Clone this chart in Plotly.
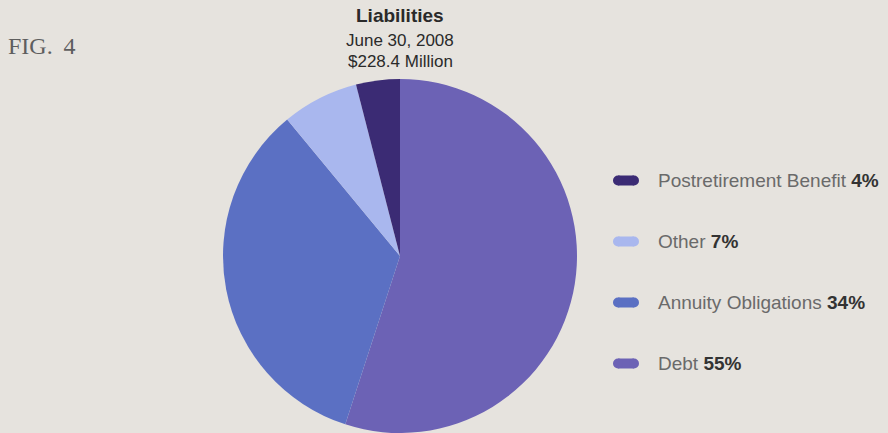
import plotly.graph_objects as go

# Liabilities breakdown, June 30, 2008 (percent of $228.4 million)
categories = ["Debt", "Annuity Obligations", "Other", "Postretirement Benefit"]
shares = [55, 34, 7, 4]
colors = ["#6c62b5", "#5b70c3", "#a9b7ee", "#3b2b74"]

title_lines = ["Liabilities", "June 30, 2008", "$228.4 Million"]
fig_label = "FIG.\u2009 4"

W, H = 888, 433
BG = "#e6e3de"

fig = go.Figure()

fig.add_trace(go.Pie(
    labels=categories,
    values=shares,
    sort=False,
    direction="clockwise",
    rotation=0,
    marker=dict(colors=colors, line=dict(width=0)),
    textinfo="none",
    hoverinfo="label+percent",
    showlegend=False,
    domain=dict(x=[222 / W, 578 / W], y=[0.0, 354 / H]),
))

# pixel-space axes for the legend and captions
fig.update_xaxes(range=[0, W], visible=False, fixedrange=True)
fig.update_yaxes(range=[H, 0], visible=False, fixedrange=True)

shapes = []
annotations = []

# legend: rounded swatches with label and bold share, listed top to bottom
legend_order = list(range(len(categories)))[::-1]
row_y0, row_step = 180.5, 61
sw_x0, sw_x1, sw_h = 613, 639, 10
for row, i in enumerate(legend_order):
    cy = row_y0 + row * row_step
    r = sw_h / 2
    shapes.append(dict(type="rect", xref="x", yref="y",
                       x0=sw_x0 + r, x1=sw_x1 - r, y0=cy - r, y1=cy + r,
                       fillcolor=colors[i], line=dict(width=0)))
    for cx in (sw_x0 + r, sw_x1 - r):
        shapes.append(dict(type="circle", xref="x", yref="y",
                           x0=cx - r, x1=cx + r, y0=cy - r, y1=cy + r,
                           fillcolor=colors[i], line=dict(width=0)))
    annotations.append(dict(
        xref="x", yref="y", x=656, y=cy, xanchor="left", yanchor="middle",
        text=f"{categories[i]} <b><span style='color:#333333'>{shares[i]}%</span></b>",
        showarrow=False,
        font=dict(family="Liberation Sans, Arial, sans-serif", size=19, color="#6a6a6a"),
    ))

# chart heading
annotations.append(dict(xref="x", yref="y", x=400, y=15, xanchor="center", yanchor="middle",
                        text=f"<b>{title_lines[0]}</b>", showarrow=False,
                        font=dict(family="Liberation Sans, Arial", size=19, color="#2a2a2a")))
for k, line in enumerate(title_lines[1:]):
    annotations.append(dict(xref="x", yref="y", x=400, y=40 + 21.5 * k, xanchor="center", yanchor="middle",
                            text=line, showarrow=False,
                            font=dict(family="Liberation Sans, Arial", size=17, color="#2a2a2a")))

annotations.append(dict(xref="x", yref="y", x=6, y=46, xanchor="left", yanchor="middle",
                        text=fig_label, showarrow=False,
                        font=dict(family="Liberation Serif, DejaVu Serif, serif", size=24, color="#5e5e5e")))

fig.update_layout(
    width=W, height=H,
    margin=dict(l=0, r=0, t=0, b=0),
    paper_bgcolor=BG, plot_bgcolor=BG,
    shapes=shapes, annotations=annotations,
    showlegend=False,
)

fig.write_html("out.html")
